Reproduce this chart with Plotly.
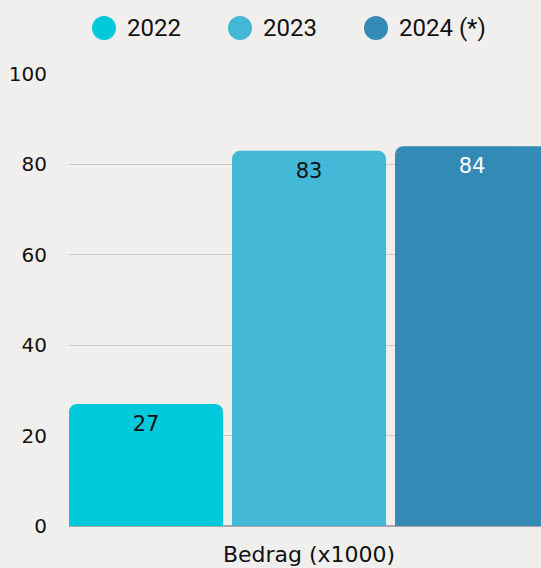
import plotly.graph_objects as go

# data
years = ["2022", "2023", "2024 (*)"]
values = [27, 83, 84]
category = ["Bedrag (x1000)"]
colors = ["#00c9db", "#42b7d6", "#338ab5"]
label_colors = ["#111111", "#111111", "#ffffff"]

W, H = 541, 568
ml, mr, mt, mb = 69, 0, 74, 42
pw, ph = W - ml - mr, H - mt - mb

def px_x(p):
    return (p - ml) / pw

def px_y(p):
    return 1 + (mt - p) / ph

fig = go.Figure()
for name, v, c, lc in zip(years, values, colors, label_colors):
    fig.add_trace(go.Bar(
        x=category, y=[v], name=name,
        marker=dict(color=c, line=dict(width=0)),
        text=[v], textposition="inside", insidetextanchor="end",
        textfont=dict(color=lc, size=21, family="DejaVu Sans"),
        showlegend=False,
    ))

# manual legend with round markers
legend_circles = [104, 240, 376]
legend_text = [127, 263, 399]
for name, c, cx, tx in zip(years, colors, legend_circles, legend_text):
    fig.add_shape(type="circle", xref="paper", yref="paper",
                  xsizemode="pixel", ysizemode="pixel",
                  xanchor=px_x(cx), yanchor=px_y(28),
                  x0=-12, x1=12, y0=-12, y1=12,
                  fillcolor=c, line=dict(width=0))
    fig.add_annotation(x=px_x(tx - 2), y=px_y(28), xref="paper", yref="paper",
                       text=name, showarrow=False, xanchor="left", yanchor="middle",
                       font=dict(size=24, color="#111111", family="Roboto"))

g = 0.055
lo = -0.5 + g / 6
hi = lo + pw / 489

fig.update_layout(
    width=W, height=H,
    margin=dict(l=ml, r=mr, t=mt, b=mb),
    paper_bgcolor="#f1efed", plot_bgcolor="#f1efed",
    barmode="group", bargap=0, bargroupgap=g, barcornerradius=8,
    font=dict(family="DejaVu Sans", size=20, color="#111111"),
    xaxis=dict(range=[lo, hi], showgrid=False, showline=False,
               ticks="outside", ticklen=9, tickcolor="rgba(0,0,0,0)",
               tickfont=dict(size=22)),
    yaxis=dict(range=[0, 100], dtick=20, showgrid=True, gridcolor="#c9c9c9",
               gridwidth=1, zeroline=True, zerolinecolor="#a8a8a8", zerolinewidth=2,
               ticks="outside", ticklen=17, tickcolor="rgba(0,0,0,0)",
               tickfont=dict(size=20)),
)

fig.write_html("out.html", config={"displayModeBar": False},
               post_script="document.body.style.margin='0';")
